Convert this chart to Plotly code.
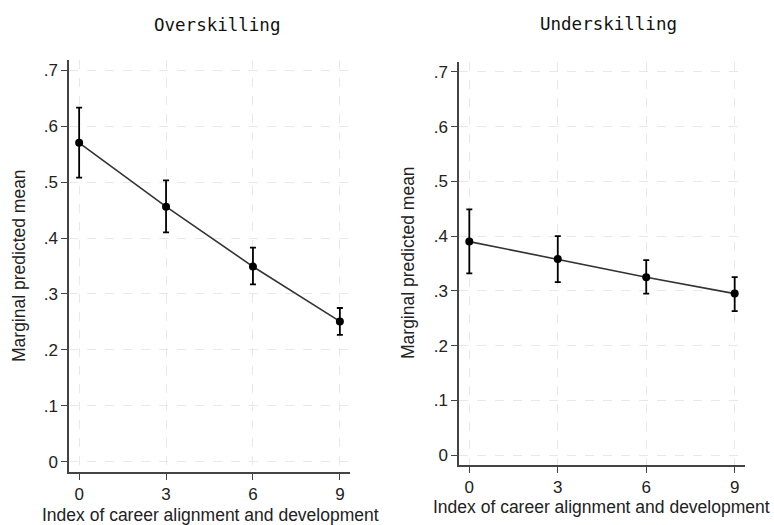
import plotly.graph_objects as go

x_vals = [0, 3, 6, 9]
over_mean = [0.570, 0.456, 0.349, 0.251]
over_hi = [0.633, 0.503, 0.383, 0.275]
over_lo = [0.508, 0.410, 0.317, 0.227]
under_mean = [0.390, 0.358, 0.325, 0.295]
under_hi = [0.449, 0.400, 0.356, 0.325]
under_lo = [0.332, 0.316, 0.295, 0.263]
y_ticks = [0, 0.1, 0.2, 0.3, 0.4, 0.5, 0.6, 0.7]
y_tick_text = ["0", ".1", ".2", ".3", ".4", ".5", ".6", ".7"]
titles = ["Overskilling", "Underskilling"]
x_title = "Index of career alignment and development"
y_title = "Marginal predicted mean"

W, H = 774, 525
fig = go.Figure()

def add_series(mean, hi, lo, xa, ya):
    fig.add_trace(go.Scatter(
        x=x_vals, y=mean, mode="lines+markers", xaxis=xa, yaxis=ya,
        line=dict(color="#333333", width=1.6),
        marker=dict(color="black", size=8),
        error_y=dict(type="data", symmetric=False,
                     array=[h - m for h, m in zip(hi, mean)],
                     arrayminus=[m - l for m, l in zip(mean, lo)],
                     color="black", thickness=1.8, width=3),
        showlegend=False, cliponaxis=False))

add_series(over_mean, over_hi, over_lo, "x", "y")
add_series(under_mean, under_hi, under_lo, "x2", "y2")

axis_font = dict(family="Liberation Sans, Arial, sans-serif", size=17, color="#222")
common_x = dict(range=[-0.35, 9.35], tickvals=x_vals, ticks="outside", ticklen=6,
                tickcolor="#444", showline=True, linecolor="#444", linewidth=1.5,
                showgrid=True, gridcolor="#e8e8e8", griddash="dash", gridwidth=1,
                zeroline=False, tickfont=axis_font, fixedrange=True)
common_y = dict(tickvals=y_ticks, ticktext=y_tick_text, ticks="outside", ticklen=6,
                tickcolor="#444", showline=True, linecolor="#444", linewidth=1.5,
                showgrid=True, gridcolor="#e8e8e8", griddash="dash", gridwidth=1,
                zeroline=False, tickfont=axis_font, fixedrange=True)

def px_x(p):
    return p / W

def px_y(p):
    return 1 - p / H

fig.update_layout(
    width=W, height=H, margin=dict(l=0, r=0, t=0, b=0),
    paper_bgcolor="white", plot_bgcolor="white",
    xaxis=dict(common_x, domain=[px_x(69), px_x(350)], anchor="y"),
    yaxis=dict(common_y, domain=[px_y(472), px_y(60)], anchor="x", range=[-0.018, 0.718]),
    xaxis2=dict(common_x, domain=[px_x(459), px_x(745)], anchor="y2"),
    yaxis2=dict(common_y, domain=[px_y(465), px_y(62)], anchor="x2", range=[-0.018, 0.718]),
)

title_font = dict(family="DejaVu Sans Mono, monospace", size=17.5, color="#111")
label_font = dict(family="Liberation Sans, Arial, sans-serif", size=17.5, color="#222")
ann = [
    dict(text=titles[0], x=px_x(217), y=px_y(25), font=title_font),
    dict(text=titles[1], x=px_x(608), y=px_y(24), font=title_font),
    dict(text=x_title, x=px_x(210), y=px_y(515), font=label_font),
    dict(text=x_title, x=px_x(601), y=px_y(507), font=label_font),
    dict(text=y_title, x=px_x(19), y=px_y(266), font=label_font, textangle=-90),
    dict(text=y_title, x=px_x(408), y=px_y(263), font=label_font, textangle=-90),
]
for a in ann:
    fig.add_annotation(xref="paper", yref="paper", showarrow=False,
                       xanchor="center", yanchor="middle", **a)

fig.write_html("out.html")
